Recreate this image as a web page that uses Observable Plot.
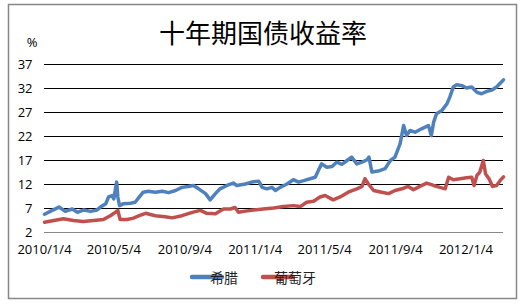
<!DOCTYPE html>
<html><head><meta charset="utf-8">
<script src="https://cdn.jsdelivr.net/npm/d3@7"></script>
<script src="https://cdn.jsdelivr.net/npm/@observablehq/plot@0.6"></script>
<style>body{margin:0;background:#fff}#chart{width:525px;height:305px}</style>
</head><body><div id="chart"></div>
<script>
const chartTitle = "十年期国债收益率";
const unitLabel = "%";
const seriesNames = ["希腊", "葡萄牙"];
const seriesColors = ["#4F81BD", "#C0504D"];
const yTicks = [2, 7, 12, 17, 22, 27, 32, 37];
const xTickLabels = ["2010/1/4", "2010/5/4", "2010/9/4", "2011/1/4", "2011/5/4", "2011/9/4", "2012/1/4"];
const xDomain = ["2010-01-04", "2012-03-09"];

const greeceDates = ["2010-01-04","2010-01-14","2010-01-29","2010-02-09","2010-02-21","2010-03-02","2010-03-13","2010-03-25","2010-04-05","2010-04-11","2010-04-20","2010-04-25","2010-05-01","2010-05-04","2010-05-09","2010-05-11","2010-05-14","2010-05-21","2010-06-02","2010-06-10","2010-06-16","2010-06-24","2010-07-03","2010-07-15","2010-07-27","2010-08-07","2010-08-19","2010-08-30","2010-09-10","2010-09-19","2010-09-28","2010-10-10","2010-10-18","2010-10-27","2010-11-04","2010-11-16","2010-11-27","2010-12-03","2010-12-18","2010-12-29","2011-01-10","2011-01-16","2011-01-24","2011-02-02","2011-02-08","2011-02-16","2011-02-28","2011-03-11","2011-03-20","2011-03-29","2011-04-09","2011-04-18","2011-04-24","2011-04-29","2011-05-08","2011-05-17","2011-05-25","2011-06-03","2011-06-12","2011-06-20","2011-06-29","2011-07-08","2011-07-16","2011-07-20","2011-07-25","2011-08-05","2011-08-17","2011-08-26","2011-09-03","2011-09-12","2011-09-18","2011-09-23","2011-09-29","2011-10-08","2011-10-19","2011-10-31","2011-11-05","2011-11-09","2011-11-14","2011-11-23","2011-12-02","2011-12-07","2011-12-13","2011-12-19","2011-12-28","2012-01-05","2012-01-14","2012-01-23","2012-01-31","2012-02-09","2012-02-18","2012-02-26","2012-03-05","2012-03-09"];
const greeceYield = [5.8,6.4,7.3,6.4,6.9,6.2,6.7,6.4,6.7,7.3,8.0,9.4,9.7,9.0,12.5,9.4,7.6,8.0,8.1,8.3,9.2,10.4,10.6,10.4,10.6,10.3,10.75,11.4,11.6,11.8,11.1,10.1,8.8,10.1,11.1,11.8,12.3,11.8,12.1,12.5,12.7,11.4,11.1,11.4,10.75,11.4,12.1,13.0,12.5,12.8,13.2,13.5,15.1,16.3,15.6,15.75,16.65,16.2,17.0,17.7,16.3,16.65,17.1,17.7,14.6,14.8,15.3,17.0,17.7,20.5,24.3,22.2,23.25,22.9,23.6,24.3,22.2,25.0,26.75,27.4,28.8,30.2,32.3,32.8,32.6,32.1,32.3,31.2,30.9,31.4,31.7,32.3,33.3,33.8];

const portugalDates = ["2010-01-04","2010-01-20","2010-02-06","2010-02-23","2010-03-12","2010-03-30","2010-04-16","2010-04-28","2010-05-07","2010-05-11","2010-05-15","2010-05-27","2010-06-07","2010-06-17","2010-06-28","2010-07-15","2010-08-01","2010-08-13","2010-08-30","2010-09-17","2010-10-01","2010-10-12","2010-10-27","2010-11-10","2010-11-22","2010-11-30","2010-12-06","2010-12-15","2011-01-01","2011-01-18","2011-02-05","2011-02-22","2011-03-11","2011-03-23","2011-04-03","2011-04-15","2011-04-26","2011-05-05","2011-05-19","2011-05-31","2011-06-14","2011-06-29","2011-07-08","2011-07-13","2011-07-19","2011-07-28","2011-08-11","2011-08-23","2011-09-03","2011-09-15","2011-09-26","2011-10-05","2011-10-16","2011-10-28","2011-11-09","2011-11-20","2011-11-29","2011-12-05","2011-12-13","2011-12-25","2012-01-05","2012-01-14","2012-01-18","2012-01-23","2012-01-28","2012-02-03","2012-02-07","2012-02-13","2012-02-19","2012-02-26","2012-03-03","2012-03-09"];
const portugalYield = [4.15,4.5,4.85,4.5,4.3,4.5,4.7,5.5,6.2,6.6,4.7,4.7,5.0,5.5,6.0,5.5,5.3,5.05,5.5,6.2,6.6,6.0,5.9,6.9,6.9,7.2,6.2,6.4,6.7,6.9,7.1,7.4,7.6,7.4,8.3,8.5,9.4,9.7,8.8,9.4,10.4,11.1,11.6,13.2,12.1,10.75,10.4,10.1,10.75,11.1,11.6,10.9,11.6,12.3,11.8,11.4,11.1,13.5,13.0,13.2,13.4,13.5,11.8,13.9,14.6,17.0,14.2,13.2,11.6,11.8,12.8,13.6];

const rows = [
  ...greeceDates.map((d, i) => ({date: new Date(d), value: greeceYield[i], series: seriesNames[0]})),
  ...portugalDates.map((d, i) => ({date: new Date(d), value: portugalYield[i], series: seriesNames[1]}))
];
const parseTick = d3.utcParse("%Y/%m/%d");
const xTicks = xTickLabels.map(parseTick);
const fmt = d3.utcFormat("%Y/%-m/%-d");

const W = 525, H = 305;
const plot = Plot.plot({
  width: W, height: H,
  marginTop: 64, marginBottom: 73, marginLeft: 44, marginRight: 22,
  style: {fontFamily: "'Open Sans', sans-serif", fontSize: "13px", color: "#000", background: "#fff"},
  x: {type: "utc", domain: xDomain.map(d => new Date(d)), ticks: xTicks, tickFormat: fmt, tickSize: 0, tickPadding: 12, label: null},
  y: {domain: [2, 37], ticks: yTicks, tickSize: 0, tickPadding: 12, label: null},
  color: {domain: seriesNames, range: seriesColors},
  marks: [
    Plot.ruleY(yTicks.filter(t => t > 2), {stroke: "#000", strokeWidth: 1}),
    Plot.ruleY([2], {stroke: "#888", strokeWidth: 1}),
    Plot.line(rows, {x: "date", y: "value", z: "series", stroke: "series", strokeWidth: 3.5, strokeLinejoin: "round", strokeLinecap: "round"})
  ]
});
const svg = d3.select(plot);
svg.append("rect").attr("x", 8.5).attr("y", 4.5).attr("width", 508).attr("height", 294)
  .attr("fill", "none").attr("stroke", "#888").attr("stroke-width", 1.5);
svg.append("text").attr("x", 263).attr("y", 31).attr("text-anchor", "middle").attr("dominant-baseline", "central")
  .style("font-family", "'Noto Sans CJK SC', sans-serif").style("font-size", "26px").attr("fill", "#000").text(chartTitle);
svg.append("text").attr("x", 32).attr("y", 42).attr("text-anchor", "middle").attr("dominant-baseline", "central")
  .style("font-size", "13px").attr("fill", "#000").text(unitLabel);
const legendX = [192, 263];
seriesNames.forEach((name, i) => {
  const g = svg.append("g");
  g.append("line").attr("x1", legendX[i]).attr("x2", legendX[i] + 30).attr("y1", 277).attr("y2", 277)
    .attr("stroke", seriesColors[i]).attr("stroke-width", 4.5).attr("stroke-linecap", "round");
  g.append("text").attr("x", legendX[i] + 32).attr("y", 277).attr("dominant-baseline", "central")
    .style("font-family", "'Noto Sans CJK SC', sans-serif").style("font-size", "14px").attr("fill", "#222").text(name);
});
document.getElementById("chart").appendChild(plot);
</script>
</body></html>
